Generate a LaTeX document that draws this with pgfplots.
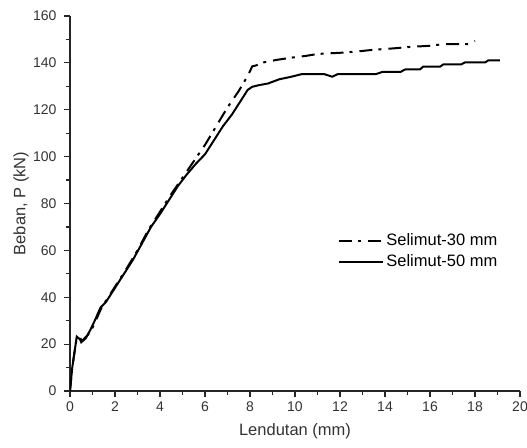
\documentclass[border=0pt]{standalone}
\usepackage{pgfplots}
\pgfplotsset{compat=1.18}
\usepackage{fontspec}
\setmainfont{Liberation Sans}
\begin{document}
\begin{tikzpicture}
\begin{axis}[
  width=450pt, height=375pt, scale only axis,
  xmin=0, xmax=20, ymin=0, ymax=160,
  axis x line*=bottom, axis y line*=left,
  axis line style={line width=1.2pt, color=black!85},
  xtick={0,2,...,20}, ytick={0,20,...,160},
  minor x tick num=1, minor y tick num=1,
  tick align=outside,
  major tick length=6pt, minor tick length=3.5pt,
  tick style={line width=1.2pt, color=black!85},
  /pgf/number format/assume math mode=true,
  ticklabel style={font=\fontsize{14}{16}\selectfont, color=black!80},
  yticklabel style={xshift=-4pt},
  xticklabel style={yshift=-1pt},
  xlabel={Lendutan (mm)}, ylabel={Beban, P (kN)},
  xlabel style={at={(axis description cs:0.5,0)}, anchor=center, yshift=-40pt,
    font=\fontsize{16.5}{18}\selectfont, color=black!80},
  ylabel style={at={(axis description cs:0,0.5)}, anchor=center, yshift=49pt,
    font=\fontsize{16.5}{18}\selectfont, color=black!80},
  legend style={at={(0.596,0.425)}, anchor=north west, draw=none, fill=none,
    font=\fontsize{16.5}{18}\selectfont, row sep=3.5pt, inner sep=0pt},
  legend cell align=left,
  legend image code/.code={\draw[#1] (0pt,0pt) -- (44pt,0pt);},
]
\addplot[line width=2pt, black, dash pattern=on 13pt off 6pt on 3pt off 7pt] coordinates {
(0,0) (0.1,10) (0.3,23) (0.45,22.5) (0.55,21.5) (0.8,24) (1.0,27) (1.4,35.5)
(2.0,44.5) (2.5,52) (3.0,60) (3.5,69) (4.0,76.5) (4.5,84) (5.0,91) (5.5,98)
(6.0,105) (6.5,113) (7.0,121) (7.5,128) (7.9,134.5) (8.1,138.5) (8.3,139)
(8.6,140.2) (9.2,141.3) (9.9,142.3) (10.5,143) (11.0,143.8) (12.0,144.3)
(12.7,144.8) (13.5,145.6) (14.4,146.2) (15.1,146.8) (16.0,147.3) (16.6,148)
(17.7,148) (18.0,149.3)
};
\addlegendentry{Selimut-30 mm}
\addplot[line width=2pt, black] coordinates {
(0,0) (0.1,10) (0.3,23.2) (0.45,22) (0.5,20.8) (0.7,22.5) (0.9,26) (1.1,30)
(1.35,35.5) (1.6,38) (2.0,44) (2.4,50) (2.8,56) (3.2,63) (3.6,70) (4.0,75.5)
(4.4,81.5) (4.8,87.5) (5.2,92.5) (5.6,97) (6.0,101) (6.4,107) (6.8,113)
(7.2,118) (7.6,124) (7.9,128.5) (8.1,129.8) (8.4,130.5) (8.8,131.2) (9.3,133)
(9.8,134) (10.3,135.2) (11.3,135.2) (11.65,134.1) (11.9,135.2) (13.6,135.2)
(13.9,136.2) (14.7,136.2) (14.9,137.2) (15.55,137.2) (15.7,138.4) (16.45,138.4)
(16.6,139.4) (17.4,139.4) (17.55,140.2) (18.45,140.2) (18.6,141.1) (19.1,141.1)
};
\addlegendentry{Selimut-50 mm}
\end{axis}
\pgfresetboundingbox
\path ([xshift=-70pt,yshift=-56pt]current axis.south west) rectangle ([xshift=7pt,yshift=16pt]current axis.north east);
\end{tikzpicture}
\end{document}
